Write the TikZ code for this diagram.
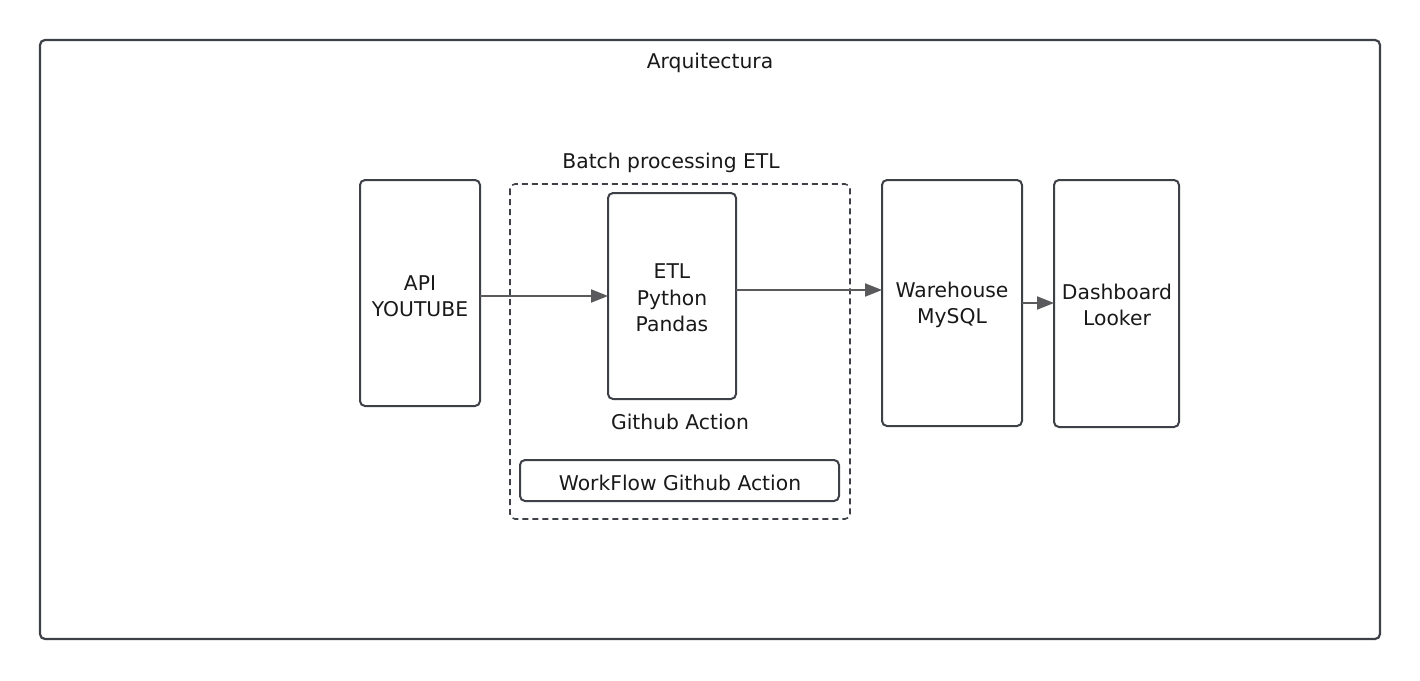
\documentclass[tikz,border=0pt]{standalone}
\usepackage{fontspec}
\setmainfont{DejaVu Sans}
\usetikzlibrary{arrows.meta}
\definecolor{edge}{HTML}{3D4046}
\definecolor{arr}{HTML}{5A5A5C}
\tikzset{
  box/.style={draw=edge, line width=2pt, rounded corners=5pt, fill=white},
  lbl/.style={font=\fontsize{20.3}{26.5}\selectfont, align=center, text=black!90, inner sep=0pt},
  conn/.style={draw=arr, line width=2pt, -{Triangle[length=17pt,width=13pt]}},
}
\begin{document}
\begin{tikzpicture}[x=1pt,y=-1pt]
\useasboundingbox (0,0) rectangle (1420,680);
\fill[white] (0,0) rectangle (1420,680);
\draw[box, line width=2.2pt] (40,40) rectangle (1380,639);
\node[lbl] (title) at (710,63) {Arquitectura};
% dashed group
\draw[draw=edge, line width=1.6pt, dashed, dash pattern=on 6pt off 4pt, rounded corners=5pt] (510,184) rectangle (850,519);
\node[lbl] (grouplbl) at (671,163) {Batch processing ETL};
% boxes
\draw[box] (360,180) rectangle (480,406);
\coordinate (apiR) at (480,296);
\node[lbl] (api) at (420,296) {API\\YOUTUBE};
\draw[box] (608,193) rectangle (736,399);
\coordinate (etlL) at (608,296);
\coordinate (etlR) at (736,290);
\node[lbl] (etl) at (672,298) {ETL\\Python\\Pandas};
\node[lbl] (gha) at (680,422) {Github Action};
\draw[box] (520,460) rectangle (839,501);
\node[lbl] (wf) at (680,483) {WorkFlow Github Action};
\draw[box] (882,180) rectangle (1022,426);
\coordinate (whL) at (882,290);
\coordinate (whR) at (1022,303);
\node[lbl] (wh) at (952,305) {Warehouse\\MySQL};
\draw[box] (1054,180) rectangle (1179,427);
\coordinate (dbL) at (1054,303);
\node[lbl] (db) at (1117,305) {Dashboard\\Looker};
% connectors
\draw[conn] (apiR) -- (etlL);
\draw[conn] (etlR) -- (whL);
\draw[conn] (whR) -- (dbL);
\end{tikzpicture}
\end{document}
